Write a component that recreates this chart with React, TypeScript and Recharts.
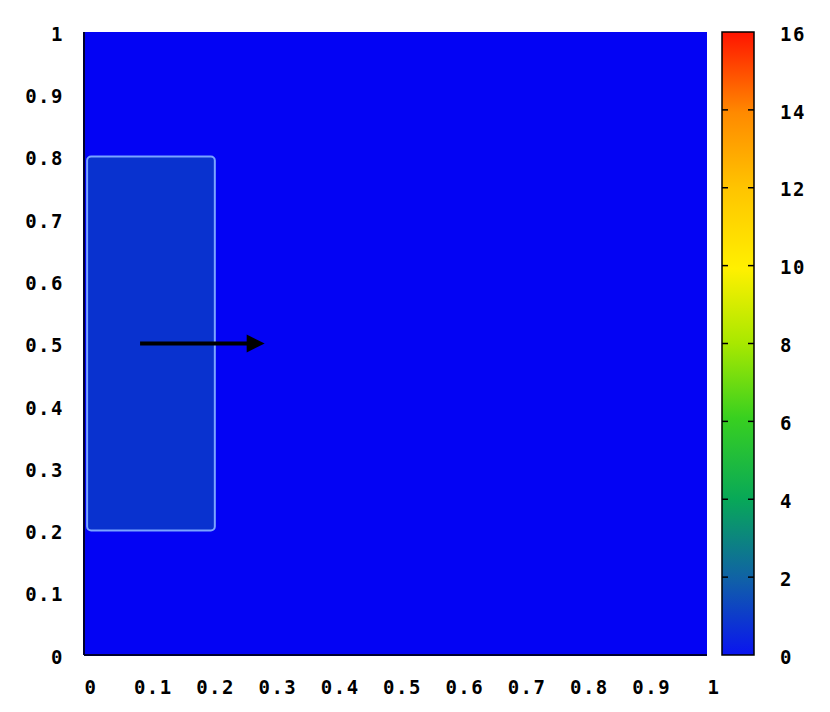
import React from "react";
import {
  ComposedChart,
  XAxis,
  YAxis,
  ReferenceArea,
  ReferenceLine,
} from "recharts";

const xTicks = [0, 0.1, 0.2, 0.3, 0.4, 0.5, 0.6, 0.7, 0.8, 0.9, 1];
const yTicks = [0, 0.1, 0.2, 0.3, 0.4, 0.5, 0.6, 0.7, 0.8, 0.9, 1];
const cbTicks = [0, 2, 4, 6, 8, 10, 12, 14, 16];

// region of the source (x0, x1, y0, y1)
const sourceBox = [0.005, 0.21, 0.2, 0.8];
// flow arrow start / end
const arrowFrom = { x: 0.09, y: 0.5 };
const arrowTo = { x: 0.29, y: 0.5 };

// palette stops: [offset, colour]
const paletteStops: [number, string][] = [
  [0, "#0a14f0"],
  [0.12, "#1060a8"],
  [0.25, "#08a858"],
  [0.38, "#38d020"],
  [0.5, "#a8e800"],
  [0.62, "#fff000"],
  [0.75, "#ffc400"],
  [0.87, "#ff8a00"],
  [1, "#ff1400"],
];

const font = {
  fontFamily: "'DejaVu Sans Mono', monospace",
  fontWeight: 700,
  fontSize: 19,
  letterSpacing: 1.5,
  fill: "#000",
};

const fmt = (v: number) => (v === 0 || v === 1 ? String(v) : v.toFixed(1));

const Arrow = (props: any) => {
  const { x1, y1, x2, y2 } = props;
  if (x1 == null) return null;
  const head = 18;
  return (
    <g>
      <line x1={x1} y1={y1} x2={x2 - head + 2} y2={y2} stroke="#000" strokeWidth={4} />
      <polygon
        points={`${x2},${y2} ${x2 - head},${y2 - 9} ${x2 - head},${y2 + 9}`}
        fill="#000"
      />
    </g>
  );
};

// colour box plus the small inward tick marks gnuplot draws on both sides
const ColorBox = (props: any) => {
  const { x, y, width, height } = props;
  if (x == null) return null;
  const max = cbTicks[cbTicks.length - 1];
  return (
    <g>
      <rect x={x} y={y} width={width} height={height} fill="url(#palette)" stroke="#000" strokeWidth={1.5} />
      {cbTicks.slice(1, -1).map((t) => {
        const ty = y + height * (1 - t / max);
        return (
          <g key={t} stroke="#000" strokeWidth={1.5}>
            <line x1={x} x2={x + 6} y1={ty} y2={ty} />
            <line x1={x + width - 6} x2={x + width} y1={ty} y2={ty} />
          </g>
        );
      })}
    </g>
  );
};

export default function App() {
  return (
    <div
      style={{
        position: "absolute",
        left: 0,
        top: 0,
        width: 830,
        height: 712,
        background: "#fff",
      }}
    >
      <div style={{ position: "absolute", left: 0, top: 0 }}>
        <ComposedChart
          width={830}
          height={712}
          data={[]}
          margin={{ top: 32, right: 123, bottom: 0, left: 0 }}
        >
          <XAxis
            type="number"
            dataKey="x"
            domain={[0, 1]}
            ticks={xTicks}
            tickFormatter={fmt}
            height={57}
            tickLine={false}
            axisLine={false}
            tickSize={0}
            tickMargin={26}
            tick={{ ...font, dx: 7 }}
            allowDataOverflow
          />
          <YAxis
            type="number"
            dataKey="y"
            domain={[0, 1]}
            ticks={yTicks}
            tickFormatter={fmt}
            width={84}
            tickLine={false}
            axisLine={false}
            tickSize={0}
            tickMargin={20}
            tick={{ ...font, dy: 2 }}
            allowDataOverflow
          />
          <ReferenceArea
            x1={0}
            x2={1}
            y1={0}
            y2={1}
            fill="#0303f4"
            fillOpacity={1}
            stroke="none"
          />
          <ReferenceLine x={0} stroke="#000030" strokeWidth={2} />
          <ReferenceLine y={0} stroke="#000030" strokeWidth={2} />
          <ReferenceArea
            x1={sourceBox[0]}
            x2={sourceBox[1]}
            y1={sourceBox[2]}
            y2={sourceBox[3]}
            fill="#0932cf"
            fillOpacity={1}
            stroke="#7aa4ff"
            strokeWidth={2}
            radius={4}
          />
          <ReferenceLine segment={[arrowFrom, arrowTo]} shape={<Arrow />} />
        </ComposedChart>
      </div>
      <div style={{ position: "absolute", left: 0, top: 0 }}>
        <ComposedChart
          width={830}
          height={712}
          data={[]}
          margin={{ top: 32, right: 0, bottom: 0, left: 722 }}
        >
          <defs>
            <linearGradient id="palette" x1="0" y1="1" x2="0" y2="0">
              {paletteStops.map(([o, c]) => (
                <stop key={o} offset={o} stopColor={c} />
              ))}
            </linearGradient>
          </defs>
          <XAxis
            type="number"
            dataKey="x"
            domain={[0, 1]}
            ticks={[0, 1]}
            height={57}
            tick={false}
            tickLine={false}
            axisLine={false}
            allowDataOverflow
          />
          <YAxis
            type="number"
            dataKey="z"
            orientation="right"
            domain={[0, 16]}
            ticks={cbTicks}
            width={76}
            tickLine={false}
            axisLine={false}
            tickSize={0}
            tickMargin={26}
            tick={{ ...font, textAnchor: "start", dy: 2 }}
            allowDataOverflow
          />
          <ReferenceArea
            x1={0}
            x2={1}
            y1={0}
            y2={16}
            ifOverflow="visible"
            shape={<ColorBox />}
          />
        </ComposedChart>
      </div>
    </div>
  );
}
